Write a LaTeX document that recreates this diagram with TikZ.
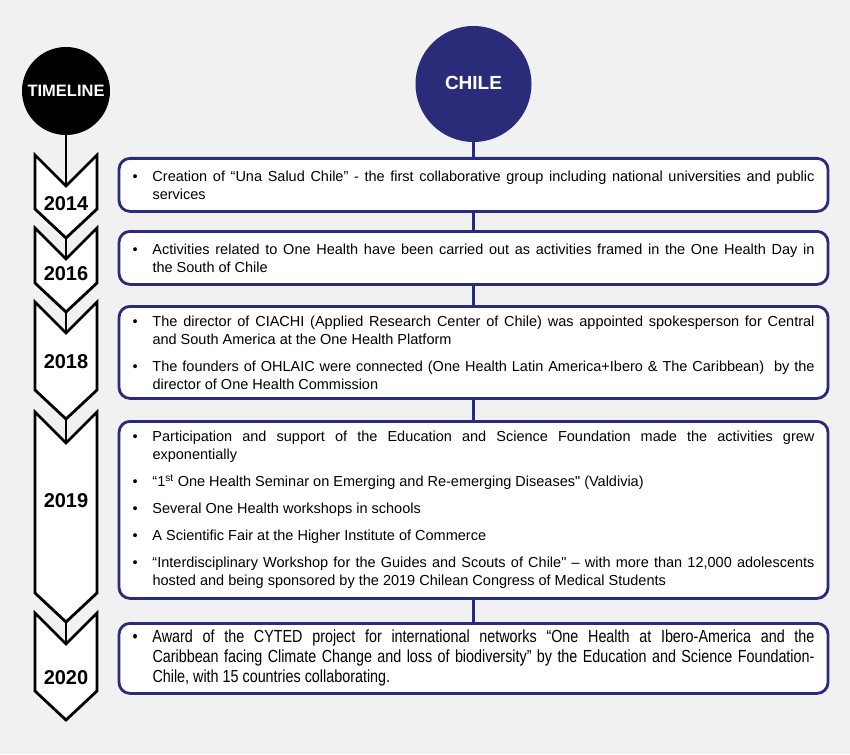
\documentclass[tikz,border=0pt]{standalone}
\usepackage{fontspec}
\setmainfont{Liberation Sans}
\newfontfamily\narrowsans{Liberation Sans}[FakeStretch=0.82]
\definecolor{chilenavy}{RGB}{42,44,122}
\definecolor{paper}{RGB}{241,241,241}
\newcommand{\bpoint}[1]{\noindent\hangindent=20pt\hangafter=1\makebox[20pt][l]{•}#1\par}

\begin{document}
\begin{tikzpicture}[x=1pt, y={(0pt,-1pt)},
    event/.style={draw=chilenavy, line width=2.8pt, fill=white, rounded corners=11pt,
        text width=682pt, inner xsep=13.5pt, inner ysep=0pt, align=justify, anchor=north,
        font=\fontsize{14.5}{18}\selectfont\setlength{\parskip}{9pt}},
    chevron/.style={draw=black, line width=2.8pt, fill=white},
    yearlabel/.style={font=\bfseries\fontsize{20}{20}\selectfont},
    tlline/.style={draw=black, line width=2.8pt},
    navyline/.style={draw=chilenavy, line width=2.8pt}]

    \fill[paper] (0,0) rectangle (850,754);
    \useasboundingbox (0,0) rectangle (850,754);

    % timeline column
    \node[circle, fill=black, minimum size=88pt, text=white, font=\bfseries\fontsize{16.5}{16.5}\selectfont] (timeline) at (66,91) {TIMELINE};
    \foreach \yr/\ytop/\ybot/\ylab in {2014/155/209/204, 2016/228/283/274, 2018/302/390/362, 2019/412/593/501, 2020/613/691/678}{
        \draw[chevron] (35,\ytop) -- (66,\ytop+31) -- (97,\ytop) -- (97,\ybot) -- (66,\ybot+29) -- (35,\ybot) -- cycle;
        \coordinate (n\yr) at (66,\ytop+31);
        \coordinate (p\yr) at (66,\ybot+29);
        \node[yearlabel] (y\yr) at (66,\ylab) {\yr};
    }
    \draw[tlline] (timeline) -- (n2014);
    \draw[tlline] (p2014) -- (n2016);
    \draw[tlline] (p2016) -- (n2018);
    \draw[tlline] (p2018) -- (n2019);
    \draw[tlline] (p2019) -- (n2020);

    % chile column
    \node[circle, fill=chilenavy, minimum size=116pt, text=white, font=\bfseries\fontsize{19}{19}\selectfont] (chile) at (473.5,84) {\raisebox{3pt}{CHILE}};

    \node[event, minimum height=53pt] (b2014) at (473.5,157) {
        \bpoint{Creation of “Una Salud Chile” - the first collaborative group including national universities and public\linebreak services}};
    \node[event, minimum height=53pt] (b2016) at (473.5,230) {
        \bpoint{Activities related to One Health have been carried out as activities framed in the One Health Day in\linebreak the South of Chile}};
    \node[event, minimum height=92pt] (b2018) at (473.5,305) {
        \bpoint{The director of CIACHI (Applied Research Center of Chile) was appointed spokesperson for Central\linebreak and South America at the One Health Platform}
        \bpoint{The founders of OHLAIC were connected (One Health Latin America+Ibero \& The Caribbean)\ \ by the\linebreak director of One Health Commission}};
    \node[event, minimum height=177pt] (b2019) at (473.5,420) {
        \bpoint{Participation and support of the Education and Science Foundation made the activities grew\linebreak exponentially}
        \bpoint{“1\textsuperscript{st} One Health Seminar on Emerging and Re-emerging Diseases\textquotedbl{} (Valdivia)}
        \bpoint{Several One Health workshops in schools}
        \bpoint{A Scientific Fair at the Higher Institute of Commerce}
        \bpoint{“Interdisciplinary Workshop for the Guides and Scouts of Chile\textquotedbl{} – with more than 12,000 adolescents\linebreak hosted and being sponsored by the 2019 Chilean Congress of Medical Students}};
    \node[event, minimum height=70pt, font=\narrowsans\fontsize{17.5}{20}\selectfont] (b2020) at (473.5,622) {
        \bpoint{Award of the CYTED project for international networks “One Health at Ibero-America and the\linebreak Caribbean facing Climate Change and loss of biodiversity” by the Education and Science Foundation-\linebreak Chile, with 15 countries collaborating.}};

    \draw[navyline] (chile) -- (b2014);
    \draw[navyline] (b2014) -- (b2016);
    \draw[navyline] (b2016) -- (b2018);
    \draw[navyline] (b2018) -- (b2019);
    \draw[navyline] (b2019) -- (b2020);
\end{tikzpicture}
\end{document}
